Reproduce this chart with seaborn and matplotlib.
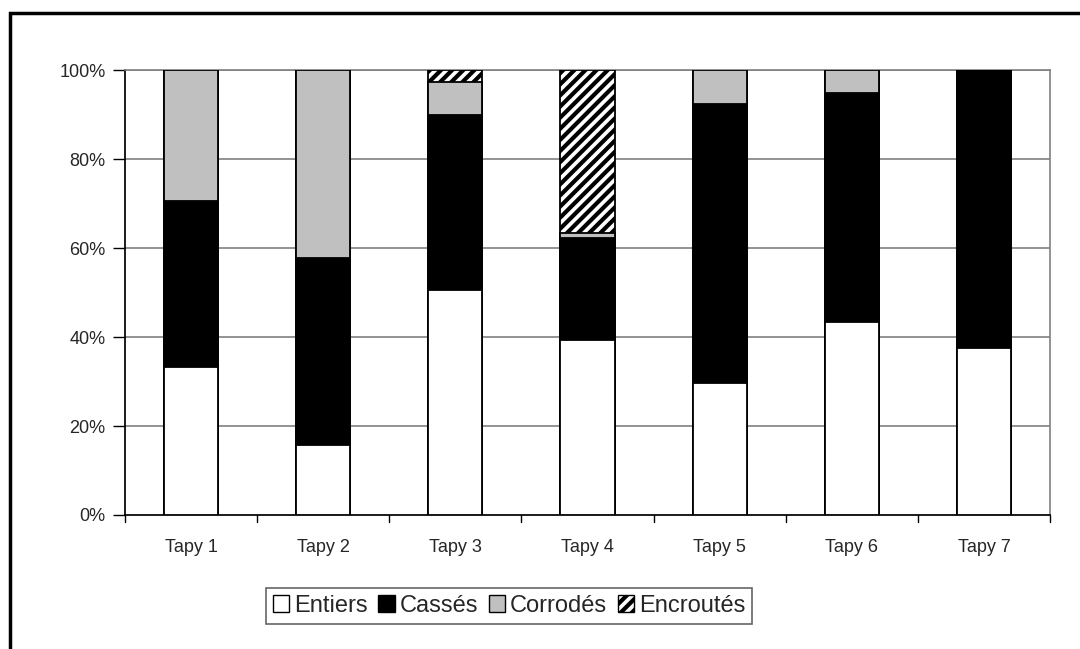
import matplotlib
matplotlib.use("Agg")
import matplotlib.pyplot as plt
import seaborn as sns
import pandas as pd
import numpy as np
from matplotlib.patches import Rectangle, Patch

# values (percent of each Tapy)
categories = ["Tapy 1", "Tapy 2", "Tapy 3", "Tapy 4", "Tapy 5", "Tapy 6", "Tapy 7"]
entiers = [33.3, 15.7, 50.6, 39.3, 29.7, 43.4, 37.5]
casses = [37.3, 42.1, 39.3, 23.0, 62.7, 51.4, 62.2]
corrodes = [29.4, 42.2, 7.5, 1.1, 7.6, 5.2, 0.3]
encroutes = [0.0, 0.0, 2.6, 36.6, 0.0, 0.0, 0.0]

sns.set_theme(style="white")
plt.rcParams["font.family"] = ["Liberation Sans", "DejaVu Sans"]
plt.rcParams["hatch.linewidth"] = 3

df = pd.DataFrame({"Tapy": categories, "Entiers": entiers, "Cassés": casses,
                   "Corrodés": corrodes, "Encroutés": encroutes})
tot = df[["Entiers", "Cassés", "Corrodés", "Encroutés"]].sum(axis=1)
for c in ["Entiers", "Cassés", "Corrodés", "Encroutés"]:
    df[c] = df[c] / tot * 100
df["c1"] = df["Entiers"]
df["c2"] = df["c1"] + df["Cassés"]
df["c3"] = df["c2"] + df["Corrodés"]
df["c4"] = df["c3"] + df["Encroutés"]

fig = plt.figure(figsize=(10.8, 6.49), dpi=100)
ax = fig.add_axes([0.1157, 0.2065, 0.8565, 0.6855])

# draw cumulative layers from top to bottom
layers = [("c4", "white", "///"), ("c3", "#c0c0c0", None),
          ("c2", "black", None), ("c1", "white", None)]
for col, color, hatch in layers:
    sns.barplot(data=df, x="Tapy", y=col, color=color, width=0.41, ax=ax,
                edgecolor="black", linewidth=1.3, hatch=hatch, saturation=1,
                zorder=3)

ax.set_ylim(0, 100)
ax.set_xlim(-0.5, 6.5)
ax.set_yticks(np.arange(0, 101, 20))
ax.set_yticklabels([f"{v}%" for v in range(0, 101, 20)], fontsize=13)
ax.set_xlabel("")
ax.set_ylabel("")
ax.tick_params(axis="x", length=0, labelsize=13, pad=17)
ax.tick_params(axis="y", left=True, length=9, width=1, color="black", pad=5)
for y in range(20, 101, 20):
    ax.axhline(y, color="#808080", linewidth=1.2, zorder=1)
# x ticks between categories
for xb in np.arange(-0.5, 7, 1):
    ax.plot([xb, xb], [0, -1.5], color="black", linewidth=1, clip_on=False)

for s in ["top", "right"]:
    ax.spines[s].set_color("#808080")
    ax.spines[s].set_linewidth(1.2)
ax.spines["left"].set_color("black")
ax.spines["bottom"].set_color("black")

handles = [Patch(facecolor="white", edgecolor="black", label="Entiers"),
           Patch(facecolor="black", edgecolor="black", label="Cassés"),
           Patch(facecolor="#c0c0c0", edgecolor="black", label="Corrodés"),
           Patch(facecolor="white", edgecolor="black", hatch="///", label="Encroutés")]
leg = fig.legend(handles=handles, loc="center", bbox_to_anchor=(509 / 1080, 1 - 606 / 649),
                 ncol=4, fontsize=17, frameon=True, fancybox=False,
                 handlelength=0.7, handleheight=0.7, handletextpad=0.2,
                 columnspacing=0.45, borderpad=0.3)
leg.get_frame().set_edgecolor("#404040")
leg.get_frame().set_linewidth(1.2)

# outer chart border (runs off the right and bottom edges)
fig.patches.append(Rectangle((10 / 1080, -0.05), 1.1, 1.05 - 13 / 649,
                             transform=fig.transFigure, fill=False,
                             edgecolor="black", linewidth=2.5))

fig.savefig("out.png", dpi=100, facecolor="white")
